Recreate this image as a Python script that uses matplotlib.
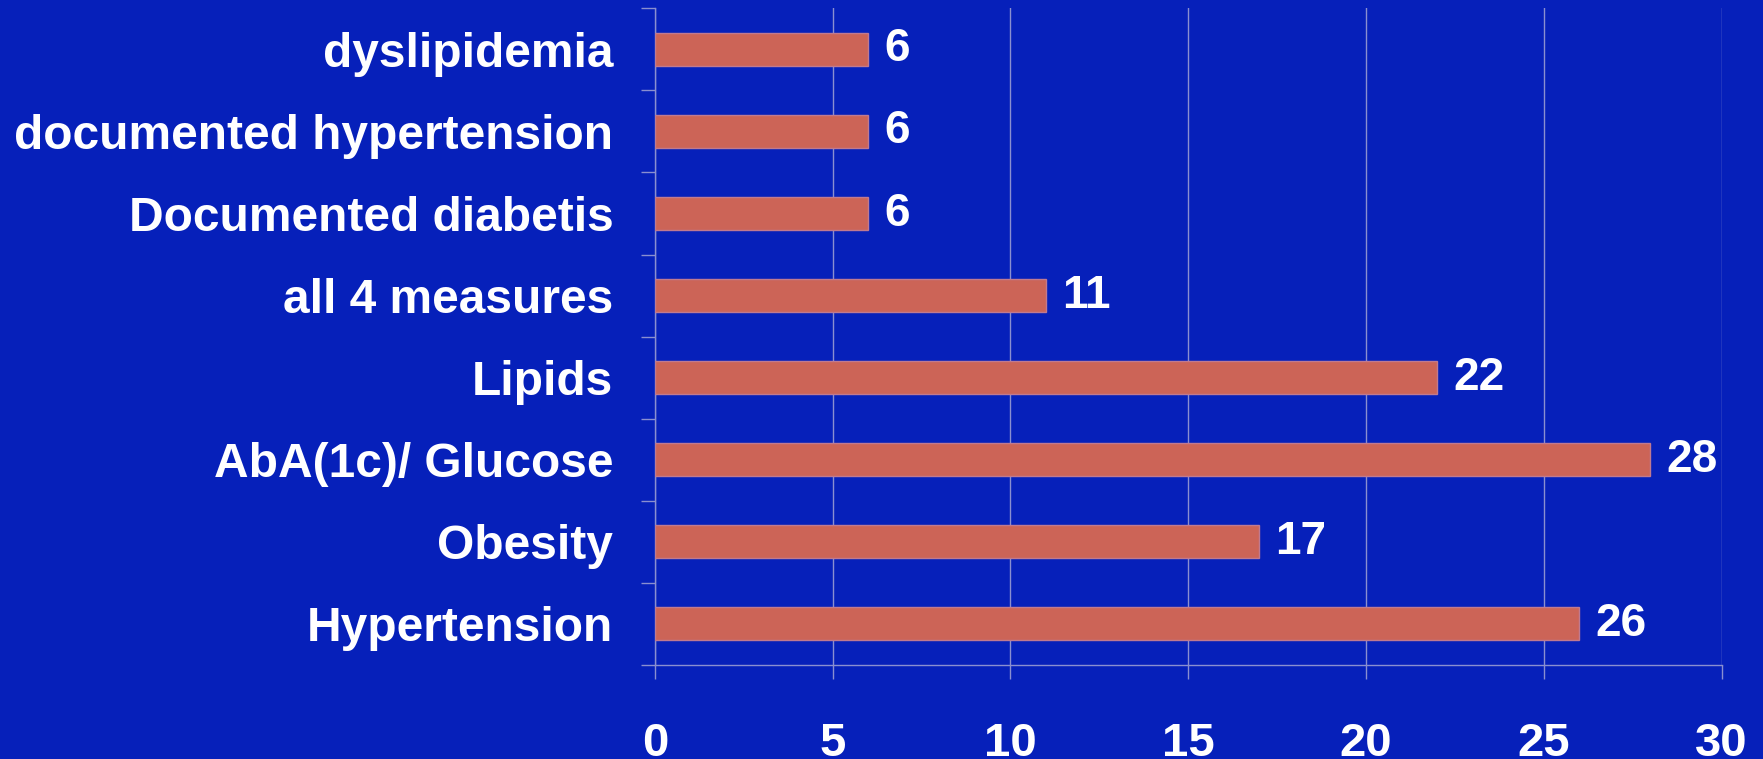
import numpy as np
import matplotlib
matplotlib.use("Agg")
import matplotlib.pyplot as plt

labels = ["Hypertension", "Obesity", "AbA(1c)/ Glucose", "Lipids",
          "all 4 measures", "Documented diabetis",
          "documented hypertension", "dyslipidemia"]
values = [26, 17, 28, 22, 11, 6, 6, 6]
xticks = [0, 5, 10, 15, 20, 25, 30]

bg = "#0620ba"
bar_color = "#cc6457"
line_color = "#8a8fd0"

plt.rcParams["font.family"] = ["Liberation Sans", "DejaVu Sans"]
plt.rcParams["font.weight"] = "bold"

fig = plt.figure(figsize=(17.63, 7.59), dpi=100, facecolor=bg)
ax = fig.add_axes([0.3715, 0.124, 0.605, 0.865], facecolor=bg)

y = np.arange(len(labels))
ax.barh(y, values, height=0.4, color=bar_color, edgecolor="#c07a90",
        linewidth=1.0, zorder=3)

# value printed to the right of each bar
for yi, v in zip(y, values):
    ax.text(v + 0.45, yi, str(v), va="center", ha="left", color="white",
            fontsize=33, fontweight="bold", zorder=4)

ax.set_xlim(0, 30)
ax.set_ylim(-0.5, len(labels) - 0.5)
ax.set_xticks(xticks)
ax.set_xticklabels([str(t) for t in xticks])
ax.set_yticks(y)
ax.set_yticklabels(labels)
ax.set_yticks(np.arange(-0.5, len(labels), 1.0), minor=True)

ax.grid(axis="x", color=line_color, linewidth=1.0, zorder=1)
ax.tick_params(axis="x", length=10, width=1.0, color=line_color,
               colors="white", labelsize=34, pad=31)
ax.tick_params(axis="y", which="major", length=0, colors="white",
               labelsize=34.5, pad=30)
ax.tick_params(axis="y", which="minor", length=10, width=1.0,
               color=line_color)

for side in ["top", "right"]:
    ax.spines[side].set_visible(False)
for side in ["left", "bottom"]:
    ax.spines[side].set_color(line_color)
    ax.spines[side].set_linewidth(1.0)

for lab in ax.get_xticklabels() + ax.get_yticklabels():
    lab.set_fontweight("bold")

fig.savefig("out.png", dpi=100, facecolor=bg)
